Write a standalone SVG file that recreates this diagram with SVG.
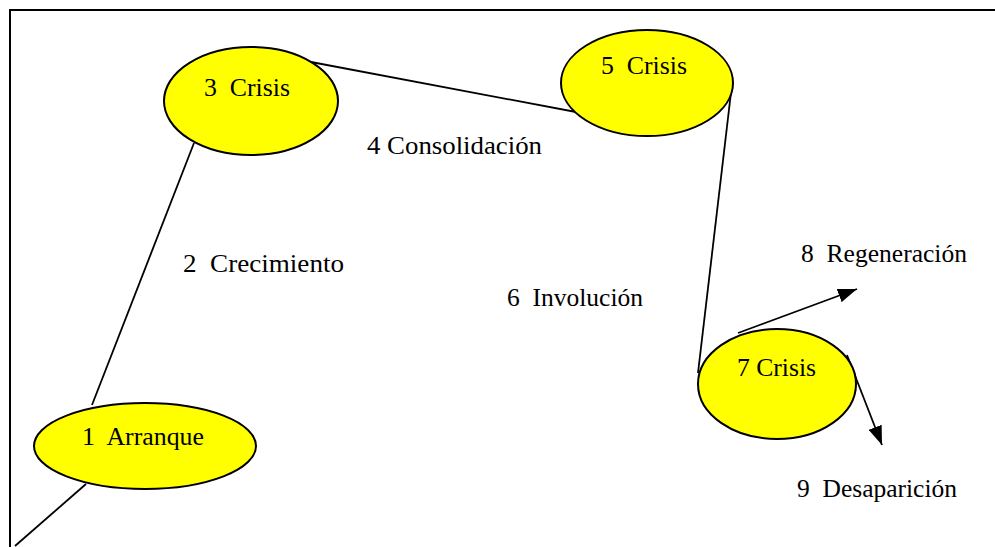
<svg xmlns="http://www.w3.org/2000/svg" width="995" height="547" viewBox="0 0 995 547">
<style>
.frame{fill:none;stroke:#000;stroke-width:2}
.node ellipse{fill:#ffff00;stroke:#000;stroke-width:2}
.conn line{stroke:#000;stroke-width:1.8;fill:none}
</style>
<defs>
<marker id="arr" viewBox="0 0 10 10" refX="10" refY="5" markerWidth="19" markerHeight="14" markerUnits="userSpaceOnUse" orient="auto" preserveAspectRatio="none">
<path d="M0,0 L10,5 L0,10 z" fill="#000"/>
</marker>
</defs>
<rect fill="#fff" x="0" y="0" width="995" height="547"/>
<rect class="frame" x="10" y="10" width="1000" height="600"/>
<g id="connectors" class="conn">
<line x1="15" y1="546" x2="86" y2="484"/>
<line x1="92" y1="405" x2="194" y2="143"/>
<line x1="311" y1="62" x2="576" y2="112"/>
<line x1="732" y1="84" x2="698" y2="373"/>
<line x1="738" y1="333" x2="857" y2="289" marker-end="url(#arr)"/>
<line x1="847" y1="355" x2="882" y2="445" marker-end="url(#arr)"/>
</g>
<g font-family="Liberation Serif" font-size="25" fill="#000">
<g id="n1" class="node">
<ellipse cx="145" cy="446" rx="111" ry="43"/>
<text x="82" y="445" textLength="122" lengthAdjust="spacingAndGlyphs">1&#160; Arranque</text>
</g>
<g id="n3" class="node">
<ellipse cx="251" cy="101" rx="87" ry="54"/>
<text x="204" y="96" textLength="86" lengthAdjust="spacingAndGlyphs">3&#160; Crisis</text>
</g>
<g id="n5" class="node">
<ellipse cx="647" cy="83" rx="86" ry="53"/>
<text x="601" y="74" textLength="86" lengthAdjust="spacingAndGlyphs">5&#160; Crisis</text>
</g>
<g id="n7" class="node">
<ellipse cx="777" cy="384" rx="79" ry="55"/>
<text x="737" y="376" textLength="79" lengthAdjust="spacingAndGlyphs">7 Crisis</text>
</g>
<g id="labels">
<text x="183" y="272" textLength="161" lengthAdjust="spacingAndGlyphs">2&#160; Crecimiento</text>
<text x="367" y="154" textLength="175" lengthAdjust="spacingAndGlyphs">4 Consolidación</text>
<text x="507" y="306" textLength="136" lengthAdjust="spacingAndGlyphs">6&#160; Involución</text>
<text x="801" y="262" textLength="166" lengthAdjust="spacingAndGlyphs">8&#160; Regeneración</text>
<text x="797" y="497" textLength="160" lengthAdjust="spacingAndGlyphs">9&#160; Desaparición</text>
</g>
</g>
</svg>
